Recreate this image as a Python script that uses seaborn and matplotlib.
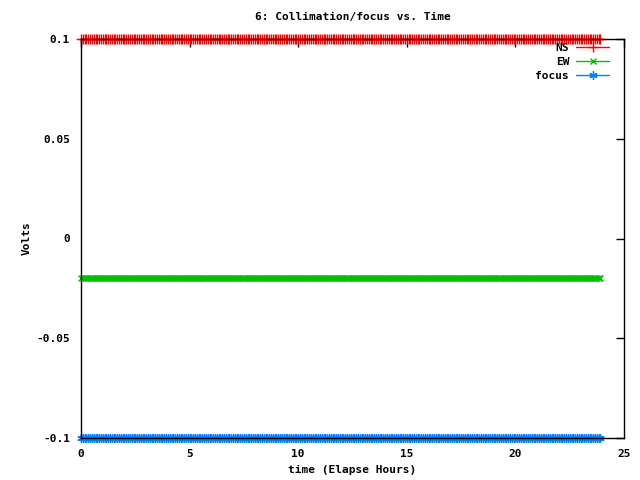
import numpy as np
import matplotlib
matplotlib.use("Agg")
import matplotlib.pyplot as plt
import seaborn as sns
from matplotlib.ticker import FuncFormatter

# samples every 5 minutes over one day
time_hours = np.arange(0, 24, 1 / 12)
ns_volts = [0.1] * len(time_hours)
ew_volts = [-0.02] * len(time_hours)
focus_volts = [-0.1] * len(time_hours)

series_names = ["NS", "EW", "focus"]
series_colors = ["#ff0000", "#00c000", "#0080ff"]
x_ticks = [0, 5, 10, 15, 20, 25]
y_ticks = [-0.1, -0.05, 0, 0.05, 0.1]

sns.set_style("white")
plt.rcParams["font.family"] = ["DejaVu Sans Mono"]
plt.rcParams["font.weight"] = "bold"
plt.rcParams["font.size"] = 8
plt.rcParams["text.color"] = "black"
plt.rcParams["axes.labelcolor"] = "black"

fig, ax = plt.subplots(figsize=(6.4, 4.8), dpi=100)
fig.subplots_adjust(left=0.1266, right=0.975, top=0.91875, bottom=0.0875)

markers = ["+", "x", (6, 2, 0)]
sizes = [7, 5, 6]
for vals, name, col, mk, ms in zip([ns_volts, ew_volts, focus_volts], series_names,
                                   series_colors, markers, sizes):
    sns.lineplot(x=time_hours, y=vals, color=col, marker=mk, markersize=ms,
                 markeredgewidth=1, markeredgecolor=col, linewidth=1,
                 label=name, ax=ax, clip_on=False)

ax.set_xlim(0, 25)
ax.set_ylim(-0.1, 0.1)
ax.set_xticks(x_ticks)
ax.set_yticks(y_ticks)
ax.yaxis.set_major_formatter(FuncFormatter(lambda v, p: "%g" % round(v, 4)))
ax.tick_params(direction="in", length=6, width=1, top=True, right=True,
               labelsize=8, colors="black", pad=8)
for s in ax.spines.values():
    s.set_visible(True)
    s.set_color("black")
    s.set_linewidth(1)
    s.set_zorder(5)

ax.set_title("6: Collimation/focus vs. Time", fontsize=8, fontweight="bold", pad=14,
             color="black")
ax.set_xlabel("time (Elapse Hours)", fontsize=8, fontweight="bold", labelpad=4.5)
ax.set_ylabel("Volts", fontsize=8, fontweight="bold", labelpad=3)

ax.legend(loc="upper right", bbox_to_anchor=(1 - 7 / 543, 1 + 4 / 399), frameon=False,
          markerfirst=False, handlelength=3.0, handletextpad=0.6,
          borderaxespad=0.3, labelspacing=0.35, labelcolor="black",
          prop={"family": "DejaVu Sans Mono", "weight": "bold", "size": 8})

fig.savefig("out.png", dpi=100)
